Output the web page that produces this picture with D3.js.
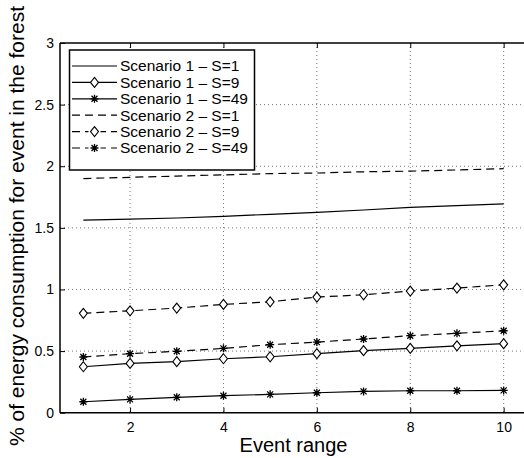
<!DOCTYPE html>
<html>
<head>
<meta charset="utf-8">
<script src="https://cdn.jsdelivr.net/npm/d3@7"></script>
<style>
  body { margin: 0; background: #fff; }
  svg { display: block; font-family: "Liberation Sans", Arial, sans-serif; }
</style>
</head>
<body>
<svg id="chart"></svg>
<script>
const eventRange = [1, 2, 3, 4, 5, 6, 7, 8, 9, 10];

const s1_S1 = [1.563, 1.57, 1.58, 1.593, 1.61, 1.625, 1.645, 1.666, 1.68, 1.695];
const s1_S9 = [0.373, 0.40, 0.414, 0.438, 0.454, 0.479, 0.503, 0.522, 0.543, 0.56];
const s1_S49 = [0.089, 0.108, 0.125, 0.138, 0.149, 0.162, 0.173, 0.178, 0.178, 0.181];
const s2_S1 = [1.90, 1.91, 1.92, 1.93, 1.94, 1.945, 1.955, 1.96, 1.97, 1.98];
const s2_S9 = [0.806, 0.827, 0.849, 0.879, 0.90, 0.938, 0.957, 0.987, 1.011, 1.038];
const s2_S49 = [0.452, 0.479, 0.498, 0.522, 0.552, 0.573, 0.598, 0.625, 0.644, 0.665];

const xTicks = [2, 4, 6, 8, 10];
const yTicks = [0, 0.5, 1, 1.5, 2, 2.5, 3];

const series = [
  { name: "Scenario 1 \u2013 S=1", values: s1_S1, dashed: false, marker: "none" },
  { name: "Scenario 1 \u2013 S=9", values: s1_S9, dashed: false, marker: "diamond" },
  { name: "Scenario 1 \u2013 S=49", values: s1_S49, dashed: false, marker: "star" },
  { name: "Scenario 2 \u2013 S=1", values: s2_S1, dashed: true, marker: "none" },
  { name: "Scenario 2 \u2013 S=9", values: s2_S9, dashed: true, marker: "diamond" },
  { name: "Scenario 2 \u2013 S=49", values: s2_S49, dashed: true, marker: "star" },
];

const width = 524;
const height = 458;
const margin = { top: 43, right: -3, bottom: 45.3, left: 60 };
const plotW = width - margin.left - margin.right;
const plotH = height - margin.top - margin.bottom;

const svg = d3.select("#chart").attr("width", width).attr("height", height);

const x = d3.scaleLinear().domain([0.5, 10.5]).range([0, plotW]);
const y = d3.scaleLinear().domain([0, 3]).range([plotH, 0]);

const g = svg.append("g").attr("transform", `translate(${margin.left},${margin.top})`);

// grid, dotted like matlab
g.append("g")
  .selectAll("line")
  .data(yTicks.filter((d) => d > 0 && d < 3))
  .join("line")
  .attr("x1", 0)
  .attr("x2", plotW)
  .attr("y1", (d) => y(d))
  .attr("y2", (d) => y(d))
  .attr("stroke", "#555")
  .attr("stroke-width", 0.8)
  .attr("stroke-dasharray", "1,3");

g.append("g")
  .selectAll("line")
  .data(xTicks)
  .join("line")
  .attr("x1", (d) => x(d))
  .attr("x2", (d) => x(d))
  .attr("y1", 0)
  .attr("y2", plotH)
  .attr("stroke", "#555")
  .attr("stroke-width", 0.8)
  .attr("stroke-dasharray", "1,3");

// axes
const xAxis = g
  .append("g")
  .attr("transform", `translate(0,${plotH})`)
  .call(d3.axisBottom(x).tickValues(xTicks).tickSize(-5).tickPadding(9))
  .call((a) => a.select(".domain").remove());

const yAxis = g
  .append("g")
  .call(d3.axisLeft(y).tickValues(yTicks).tickFormat(d3.format("~g")).tickSize(-5).tickPadding(6))
  .call((a) => a.select(".domain").remove());

// top ticks
g.append("g")
  .call(d3.axisTop(x).tickValues(xTicks).tickSize(-5).tickFormat(""))
  .call((a) => a.select(".domain").remove());

[xAxis, yAxis].forEach((a) => {
  a.selectAll("text").attr("font-size", 14).attr("fill", "#000");
});
g.selectAll(".tick line").attr("stroke", "#000").attr("stroke-width", 1);

// frame
g.append("line").attr("x1", 0).attr("x2", plotW).attr("y1", plotH).attr("y2", plotH)
  .attr("stroke", "#000").attr("stroke-width", 1.5);
g.append("line").attr("x1", 0).attr("x2", plotW).attr("y1", 0).attr("y2", 0)
  .attr("stroke", "#000").attr("stroke-width", 1.5);
g.append("line").attr("x1", 0).attr("x2", 0).attr("y1", 0).attr("y2", plotH)
  .attr("stroke", "#000").attr("stroke-width", 1.5);

// marker drawing
function drawMarker(sel, type) {
  if (type === "diamond") {
    sel.append("path")
      .attr("d", "M0,-5 L4,0 L0,5 L-4,0 Z")
      .attr("fill", "#fff")
      .attr("stroke", "#000")
      .attr("stroke-width", 1.1);
  } else if (type === "star") {
    sel.append("path")
      .attr("d", "M-4,0 L4,0 M0,-4 L0,4 M-3,-3 L3,3 M-3,3 L3,-3")
      .attr("stroke", "#000")
      .attr("stroke-width", 1.3);
  }
}

const line = d3
  .line()
  .x((d, i) => x(eventRange[i]))
  .y((d) => y(d));

series.forEach((s) => {
  g.append("path")
    .datum(s.values)
    .attr("d", line)
    .attr("fill", "none")
    .attr("stroke", "#000")
    .attr("stroke-width", 1.2)
    .attr("stroke-dasharray", s.dashed ? "8,5" : null);

  if (s.marker !== "none") {
    g.append("g")
      .selectAll("g")
      .data(s.values)
      .join("g")
      .attr("transform", (d, i) => `translate(${x(eventRange[i])},${y(d)})`)
      .each(function () {
        drawMarker(d3.select(this), s.marker);
      });
  }
});

// legend
const legend = svg.append("g").attr("transform", "translate(69.5,50)");
const rowH = 16.4;
legend.append("rect")
  .attr("width", 185)
  .attr("height", 120)
  .attr("fill", "#fff")
  .attr("stroke", "#000")
  .attr("stroke-width", 1.5);

series.forEach((s, i) => {
  const row = legend.append("g").attr("transform", `translate(0,${16 + i * rowH})`);
  row.append("line")
    .attr("x1", 2.5)
    .attr("x2", 47.5)
    .attr("y1", 0)
    .attr("y2", 0)
    .attr("stroke", "#000")
    .attr("stroke-width", 1.2)
    .attr("stroke-dasharray", s.dashed ? "8,5" : null);
  const m = row.append("g").attr("transform", "translate(25,0)");
  if (s.marker !== "none") {
    if (s.dashed) {
      m.append("rect").attr("x", -6).attr("y", -3).attr("width", 12).attr("height", 6).attr("fill", "#fff");
    }
    drawMarker(m, s.marker);
  }
  row.append("text")
    .attr("x", 50.5)
    .attr("y", 0)
    .attr("dy", "0.35em")
    .attr("font-size", 15.5)
    .attr("fill", "#000")
    .text(s.name);
});

// axis titles
svg.append("text")
  .attr("x", margin.left + x(5.5))
  .attr("y", 452)
  .attr("text-anchor", "middle")
  .attr("font-size", 20)
  .attr("fill", "#000")
  .text("Event range");

svg.append("text")
  .attr("transform", `translate(24,226) rotate(-90)`)
  .attr("text-anchor", "middle")
  .attr("font-size", 21)
  .attr("fill", "#000")
  .text("% of energy consumption for event in the forest");
</script>
</body>
</html>
